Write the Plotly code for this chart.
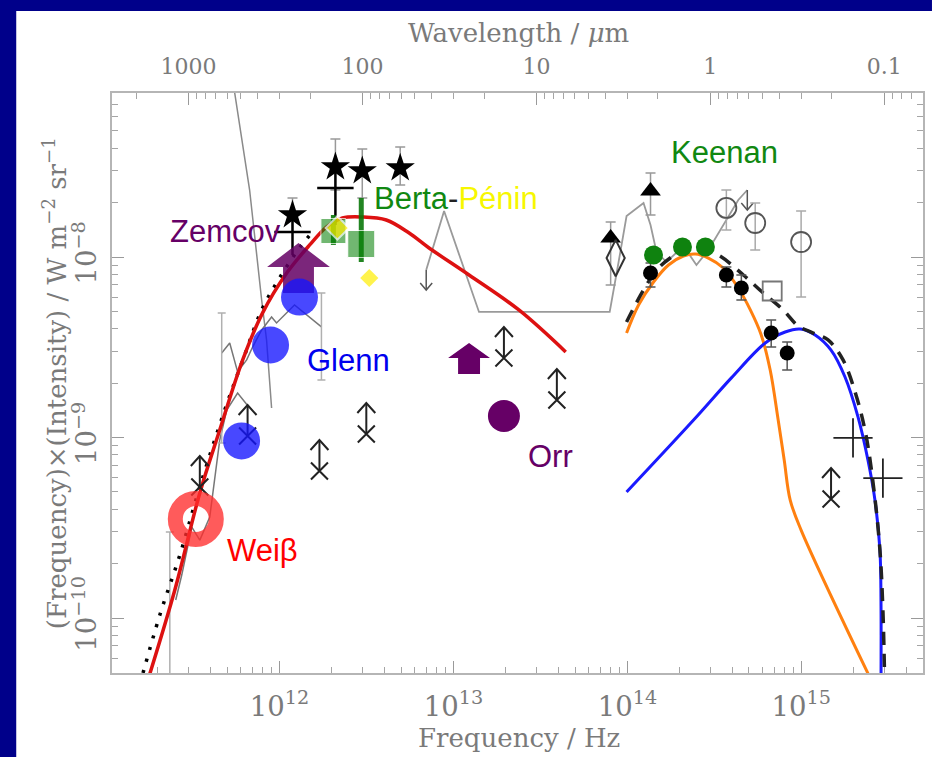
import plotly.graph_objects as go

# ---------------- data: frequency (Hz) and nu*I_nu (W m^-2 sr^-1) ----------------
red_nu = [1.68e11, 2.50e11, 3.48e11, 4.53e11, 6.14e11, 7.99e11, 1.10e12, 1.49e12, 1.86e12,
          2.30e12, 2.99e12, 4.11e12, 5.56e12, 7.24e12, 1.229e13, 2.377e13, 4.42e13]
red_I = [3.99e-11, 1.43e-10, 4.93e-10, 1.10e-9, 2.69e-9, 4.90e-9, 8.15e-9, 1.166e-8, 1.466e-8,
         1.644e-8, 1.666e-8, 1.603e-8, 1.358e-8, 1.122e-8, 7.95e-9, 5.09e-9, 2.98e-9]

dot_nu = [1.57e11, 2.05e11, 2.67e11, 3.48e11, 4.84e11, 6.30e11, 7.89e11, 1.0e12, 1.30e12, 1.546e12]
dot_I = [4.26e-11, 1.04e-10, 2.23e-10, 5.32e-10, 1.42e-9, 2.86e-9, 5.09e-9, 7.65e-9, 1.122e-8, 1.375e-8]

orange_nu = [9.89e13, 1.159e14, 1.413e14, 1.722e14, 2.10e14, 2.46e14, 2.922e14, 3.56e14, 4.34e14,
             5.09e14, 5.88e14, 6.62e14, 7.36e14, 7.97e14, 8.63e14, 9.97e14, 2.685e15]
orange_I = [3.79e-9, 5.42e-9, 7.27e-9, 9.03e-9, 1.013e-8, 1.039e-8, 9.87e-9, 8.69e-9, 6.73e-9,
            5.09e-9, 3.70e-9, 2.366e-9, 1.250e-9, 7.50e-10, 4.50e-10, 3.07e-10, 3.99e-11]

blue_nu = [9.89e13, 2.46e14, 3.96e14, 6.20e14, 8.07e14, 9.84e14, 1.200e15, 1.482e15, 1.783e15,
           2.117e15, 2.415e15, 2.65e15, 2.83e15, 2.87e15, 2.87e15]
blue_I = [4.99e-10, 1.282e-9, 2.14e-9, 3.34e-9, 3.84e-9, 3.99e-9, 3.70e-9, 3.05e-9, 2.163e-9,
          1.30e-9, 7.50e-10, 4.50e-10, 2.38e-10, 1.259e-10, 3.99e-11]

total_nu = [9.89e13, 1.238e14, 1.51e14, 1.966e14, 2.56e14, 3.334e14, 4.64e14, 6.04e14, 7.86e14,
            9.59e14, 1.169e15, 1.424e15, 1.737e15, 2.062e15, 2.352e15, 2.615e15, 2.83e15, 2.944e15, 3.02e15]
total_I = [4.365e-9, 6.56e-9, 8.69e-9, 1.052e-8, 1.122e-8, 1.026e-8, 7.95e-9, 6.32e-9, 5.09e-9,
           4.15e-9, 3.79e-9, 3.47e-9, 2.69e-9, 1.72e-9, 1.032e-9, 5.12e-10, 2.38e-10, 1.107e-10, 3.99e-11]

# grey spectra
gs_nu = [5.38e11, 6.73e11, 7.89e11, 8.42e11, 9.00e11]
gs_I = [9.56e-8, 2.35e-8, 5.78e-9, 3.47e-9, 1.457e-9]
ga_nu = [2.53e11, 2.74e11, 3.13e11, 3.48e11, 3.97e11, 4.53e11, 4.97e11, 5.74e11, 6.73e11]
ga_I = [1.259e-10, 1.73e-10, 3.19e-10, 2.70e-10, 3.63e-10, 9.68e-10, 1.42e-9, 1.764e-9, 1.457e-9]
gb_nu = [4.65e11, 5.17e11, 5.74e11, 6.47e11, 7.0e11, 7.89e11, 9.00e11, 9.61e11, 1.219e12, 1.49e12, 1.741e12]
gb_I = [2.94e-9, 3.34e-9, 2.31e-9, 2.69e-9, 3.17e-9, 3.94e-9, 4.65e-9, 4.31e-9, 5.42e-9, 4.65e-9, 4.10e-9]
gm_nu = [6.97e12, 8.83e12, 1.402e13, 7.91e13, 8.90e13, 9.89e13, 1.238e14, 1.358e14, 1.47e14,
         1.678e14, 2.10e14, 2.494e14, 2.922e14, 3.422e14, 4.34e14, 4.89e14]
gm_I = [8.47e-9, 1.798e-8, 4.96e-9, 4.96e-9, 9.38e-9, 1.687e-8, 1.991e-8, 1.504e-8, 1.066e-8,
        9.38e-9, 1.151e-8, 9.03e-9, 1.093e-8, 1.411e-8, 2.07e-8, 2.35e-8]
ge_nu = [2.34e11, 4.65e11, 1.741e12]
ge_I = [1.259e-10, 2.14e-9, 4.10e-9]
ge_hi = [2.996e-10, 4.90e-9, 6.32e-9]
ge_lo = [3.51e-11, 9.32e-10, 2.083e-9]
dl_nu = [6.97e12, 4.89e14]
dl_I = [8.47e-9, 2.35e-8]

# black symbols
star_nu = [1.187e12, 2.095e12, 2.99e12, 4.94e12]
star_I = [1.709e-8, 3.152e-8, 2.996e-8, 3.11e-8]
star_hi = [2.124e-8, 4.505e-8, 3.965e-8, 4.07e-8]
star_lo = [1.375e-8, 2.35e-8, 2.124e-8, 2.506e-8]
plus_nu = [1.187e12, 2.095e12]
plus_I = [1.375e-8, 2.41e-8]
plus_hi = [1.709e-8, 3.152e-8]
plus_lo = [1.026e-8, 1.504e-8]
ul_nu = [3.48e11, 6.55e11, 1.696e12, 3.154e12, 1.950e13, 3.93e13, 1.482e15]
ul_I = [5.32e-10, 1.019e-9, 6.52e-10, 1.046e-9, 2.757e-9, 1.614e-9, 4.564e-10]
tri_nu = [8.01e13, 1.358e14]
tri_I = [1.274e-8, 2.32e-8]
tri_hi = [1.563e-8, 2.92e-8]
tri_lo = [7.0e-9, 1.709e-8]
dia_nu = [8.56e13]
dia_I = [9.87e-9]
bc_nu = [1.358e14, 3.706e14, 4.52e14, 6.71e14, 8.29e14]
bc_I = [8.15e-9, 7.95e-9, 6.73e-9, 3.79e-9, 2.94e-9]
bc_hi = [9.26e-9, 8.80e-9, 7.95e-9, 4.48e-9, 3.38e-9]
bc_lo = [6.82e-9, 6.82e-9, 5.78e-9, 3.17e-9, 2.366e-9]
oc_nu = [3.706e14, 5.43e14, 9.97e14]
oc_I = [1.87e-8, 1.543e-8, 1.211e-8]
oc_hi = [2.35e-8, 1.991e-8, 1.798e-8]
oc_lo = [1.411e-8, 1.093e-8, 6.0e-9]
sq_nu = [6.80e14]
sq_I = [6.48e-9]
cr_nu = [1.982e15, 2.944e15]
cr_I = [9.94e-10, 5.96e-10]

# highlighted measurements
zemcov_nu = [1.285e12, 1.229e13]
zemcov_I = [8.80e-9, 2.757e-9]
glenn_nu = [1.302e12, 8.88e11, 6.05e11]
glenn_I = [6.0e-9, 3.255e-9, 9.57e-10]
weiss_nu = [3.30e11]
weiss_I = [3.536e-10]
orr_nu = [1.950e13]
orr_I = [1.315e-9]
berta_nu = [2.04e12, 2.95e12]
berta_I = [1.393e-8, 1.18e-8]
berta_hi = [1.709e-8, 2.124e-8]
berta_lo = [1.166e-8, 9.38e-9]
penin_nu = [2.15e12, 3.28e12]
penin_I = [1.448e-8, 7.65e-9]
keenan_nu = [1.413e14, 2.073e14, 2.808e14]
keenan_I = [1.026e-8, 1.136e-8, 1.136e-8]

# ---------------- layout constants ----------------
W, H = 932, 757
ML, MR, MT, MB = 112, 7, 93, 84
XR = [11.0367, 15.6995]
YR = [-10.3047, -7.0914]
PXX = (W - ML - MR) / (XR[1] - XR[0])   # px per decade
PXY = (H - MT - MB) / (YR[1] - YR[0])


def off(nu, I, dx, dy):
    return nu * 10 ** (dx / PXX), I * 10 ** (dy / PXY)


def glyph_lines(nus, Is, segs):
    xs, ys = [], []
    for n, i in zip(nus, Is):
        for seg in segs:
            for dx, dy in seg:
                a, b = off(n, i, dx, dy)
                xs.append(a)
                ys.append(b)
            xs.append(None)
            ys.append(None)
    return xs, ys


def err(vals, hi, lo):
    return dict(type='data', symmetric=False,
                array=[h - v for h, v in zip(hi, vals)],
                arrayminus=[v - l for v, l in zip(vals, lo)])


fig = go.Figure()


def line(x, y, color, width, dash=None, shape='linear'):
    fig.add_trace(go.Scatter(x=x, y=y, mode='lines', hoverinfo='skip',
                             line=dict(color=color, width=width, dash=dash, shape=shape)))


def marks(x, y, symbol, size, color, lw=0, lc=None, ey=None):
    m = dict(symbol=symbol, size=size, color=color)
    if lw:
        m['line'] = dict(color=lc or color, width=lw)
    kw = dict(x=x, y=y, mode='markers', hoverinfo='skip', marker=m)
    if ey is not None:
        kw['error_y'] = ey
    fig.add_trace(go.Scatter(**kw))


# grey spectra
line(gs_nu, gs_I, '#8a8a8a', 1.5)
line(ga_nu, ga_I, '#777777', 1.5)
line(gb_nu, gb_I, '#777777', 1.5)
line(gm_nu, gm_I, '#9a9a9a', 1.8)
marks(ge_nu, ge_I, 'circle', 1, 'rgba(0,0,0,0)',
      ey=dict(err(ge_I, ge_hi, ge_lo), color='#b0b0b0', thickness=1.5, width=4))
dx_, dy_ = glyph_lines(dl_nu, dl_I, [[(0, 0), (0, -20)], [(-6, -13), (0, -20), (6, -13)]])
line(dx_, dy_, '#555555', 1.5)

# model curves
line(dot_nu, dot_I, 'black', 3.5, dash='3px,9px', shape='spline')
line(red_nu, red_I, '#dd1111', 3.5, shape='spline')
line(orange_nu, orange_I, '#ff8010', 3, shape='spline')
line(blue_nu, blue_I, '#1a1aff', 3, shape='spline')
line(total_nu, total_I, '#222222', 3.5, dash='13px,9px', shape='spline')

# black symbols
marks(star_nu, star_I, 'star', 22, 'black',
      ey=dict(err(star_I, star_hi, star_lo), color='#999999', thickness=1.5, width=5))
marks(plus_nu, plus_I, 'line-ew', 26, 'black', lw=2.5,
      ey=dict(err(plus_I, plus_hi, plus_lo), color='black', thickness=2.5, width=0))
ux, uy = glyph_lines(ul_nu, ul_I, [[(0, 0), (0, 31)], [(-9, 21), (0, 31), (9, 21)]])
line(ux, uy, '#222222', 2)
marks(ul_nu, ul_I, 'x-thin-open', 17, '#222222', lw=2)
marks(tri_nu, tri_I, 'triangle-up', 18, 'black',
      ey=dict(err(tri_I, tri_hi, tri_lo), color='#999999', thickness=1.5, width=5))
marks(dia_nu, dia_I, 'diamond-tall-open', 26, '#333333', lw=2)
marks(bc_nu, bc_I, 'circle', 15, 'black',
      ey=dict(err(bc_I, bc_hi, bc_lo), color='#555555', thickness=1.5, width=5))
marks(oc_nu, oc_I, 'circle-open', 20, '#555555', lw=1.8,
      ey=dict(err(oc_I, oc_hi, oc_lo), color='#aaaaaa', thickness=1.5, width=5))
marks(sq_nu, sq_I, 'square-open', 19, '#777777', lw=1.8)
marks(cr_nu, cr_I, 'cross-thin-open', 28, '#222222', lw=1.8)

# Zemcov block arrows
for k, (n, i) in enumerate(zip(zemcov_nu, zemcov_I)):
    if k == 0:
        hw, hh, sw, sh, col = 31.5, 24, 15.5, 26, 'rgba(100,0,100,0.85)'
    else:
        hw, hh, sw, sh, col = 21, 15, 11, 16, '#660066'
    pts = [(0, hh), (hw, 0), (sw, 0), (sw, -sh), (-sw, -sh), (-sw, 0), (-hw, 0), (0, hh)]
    ax = [off(n, i, a, b)[0] for a, b in pts]
    ay = [off(n, i, a, b)[1] for a, b in pts]
    fig.add_trace(go.Scatter(x=ax, y=ay, mode='lines', fill='toself', fillcolor=col,
                             line=dict(width=0, color=col), hoverinfo='skip'))

marks(glenn_nu, glenn_I, 'circle', 37, 'rgba(20,20,255,0.78)')
marks(berta_nu, berta_I, 'square', [25, 27], 'rgba(10,130,10,0.82)',
      ey=dict(err(berta_I, berta_hi, berta_lo), color='rgba(10,120,10,0.9)', thickness=5, width=0))
fig.add_trace(go.Scatter(x=penin_nu, y=penin_I, mode='markers', hoverinfo='skip',
                         marker=dict(symbol='diamond', size=[18, 14], color='#ffee00',
                                     line=dict(color=['white', '#ffee00'], width=[2, 0]))))
marks(weiss_nu, weiss_I, 'circle-open', 41, 'rgba(255,45,45,0.78)', lw=15)
marks(orr_nu, orr_I, 'circle', 32, '#660066')
marks(keenan_nu, keenan_I, 'circle', 19, '#0f820f')

# invisible trace to activate the wavelength axis
fig.add_trace(go.Scatter(x=[10], y=[1e-9], xaxis='x2', mode='markers',
                         marker=dict(opacity=0), hoverinfo='skip'))

TF = dict(family='DejaVu Serif', size=22, color='#7a7a7a')
common = dict(type='log', showgrid=False, zeroline=False, showline=True, linecolor='#b5b5b5',
              linewidth=2, ticks='inside', ticklen=12, tickwidth=1.3, tickcolor='#9a9a9a',
              tickfont=TF,
              minor=dict(ticks='inside', ticklen=6, tickwidth=1.1, tickcolor='#a5a5a5',
                         dtick='D1', showgrid=False))


def px2paper(x, y):
    return (x - ML) / (W - ML - MR), (H - MB - y) / (H - MT - MB)


BLUE = '#00008a'
x_l, y_b = px2paper(-2, H + 2)
x_r, y_t = px2paper(W + 2, -2)
x_band, _ = px2paper(16, 0)
_, y_band = px2paper(0, 11)
fig.update_layout(
    width=W, height=H, margin=dict(l=ML, r=MR, t=MT, b=MB),
    paper_bgcolor='white', plot_bgcolor='white', showlegend=False,
    xaxis=dict(common, range=XR, dtick=1, exponentformat='power', ticklabelstandoff=9),
    xaxis2=dict(common, range=[14.4768 - XR[0], 14.4768 - XR[1]], overlaying='x', side='top',
                anchor='y', dtick=1, exponentformat='none', ticklabelstandoff=8),
    yaxis=dict(common, range=YR, dtick=1, exponentformat='power', mirror='ticks',
               tickangle=-90, ticklabelstandoff=4),
    shapes=[dict(type='rect', xref='paper', yref='paper', layer='below',
                 x0=x_l, x1=x_band, y0=y_b, y1=y_t, fillcolor=BLUE, line=dict(width=0)),
            dict(type='rect', xref='paper', yref='paper', layer='below',
                 x0=x_l, x1=x_r, y0=y_band, y1=y_t, fillcolor=BLUE, line=dict(width=0))],
)

LF = 'Liberation Sans, Arial, sans-serif'
labels = [
    ('Zemcov', 168, 231, '#660066'),
    ('Glenn', 305, 360, '#0000ee'),
    ('Weiβ', 225, 550, '#ff0000'),
    ("<span style='color:#118811'>Berta</span><span style='color:#222'>-</span>"
     "<span style='color:#f7f700'>Pénin</span>", 373, 198, '#118811'),
    ('Keenan', 670, 152, '#118811'),
    ('Orr', 527, 457, '#660066'),
]
ann = []
for txt, x, y, c in labels:
    px, py = px2paper(x, y)
    ann.append(dict(text=txt, x=px, y=py, xref='paper', yref='paper', xanchor='left',
                    yanchor='middle', showarrow=False, font=dict(family=LF, size=31, color=c)))
TT = dict(family='DejaVu Serif', size=26, color='#7a7a7a')
for txt, x, y, ang in [('Wavelength / <i>μ</i>m', 520, 33, 0),
                       ('Frequency / Hz', 520, 738, 0),
                       ('(Frequency)×(Intensity) / W m<sup>−2</sup> sr<sup>−1</sup>', 55, 383, -90)]:
    px, py = px2paper(x, y)
    ann.append(dict(text=txt, x=px, y=py, xref='paper', yref='paper', xanchor='center',
                    yanchor='middle', showarrow=False, textangle=ang, font=TT))
fig.update_layout(annotations=ann)

fig.write_html('out.html')
